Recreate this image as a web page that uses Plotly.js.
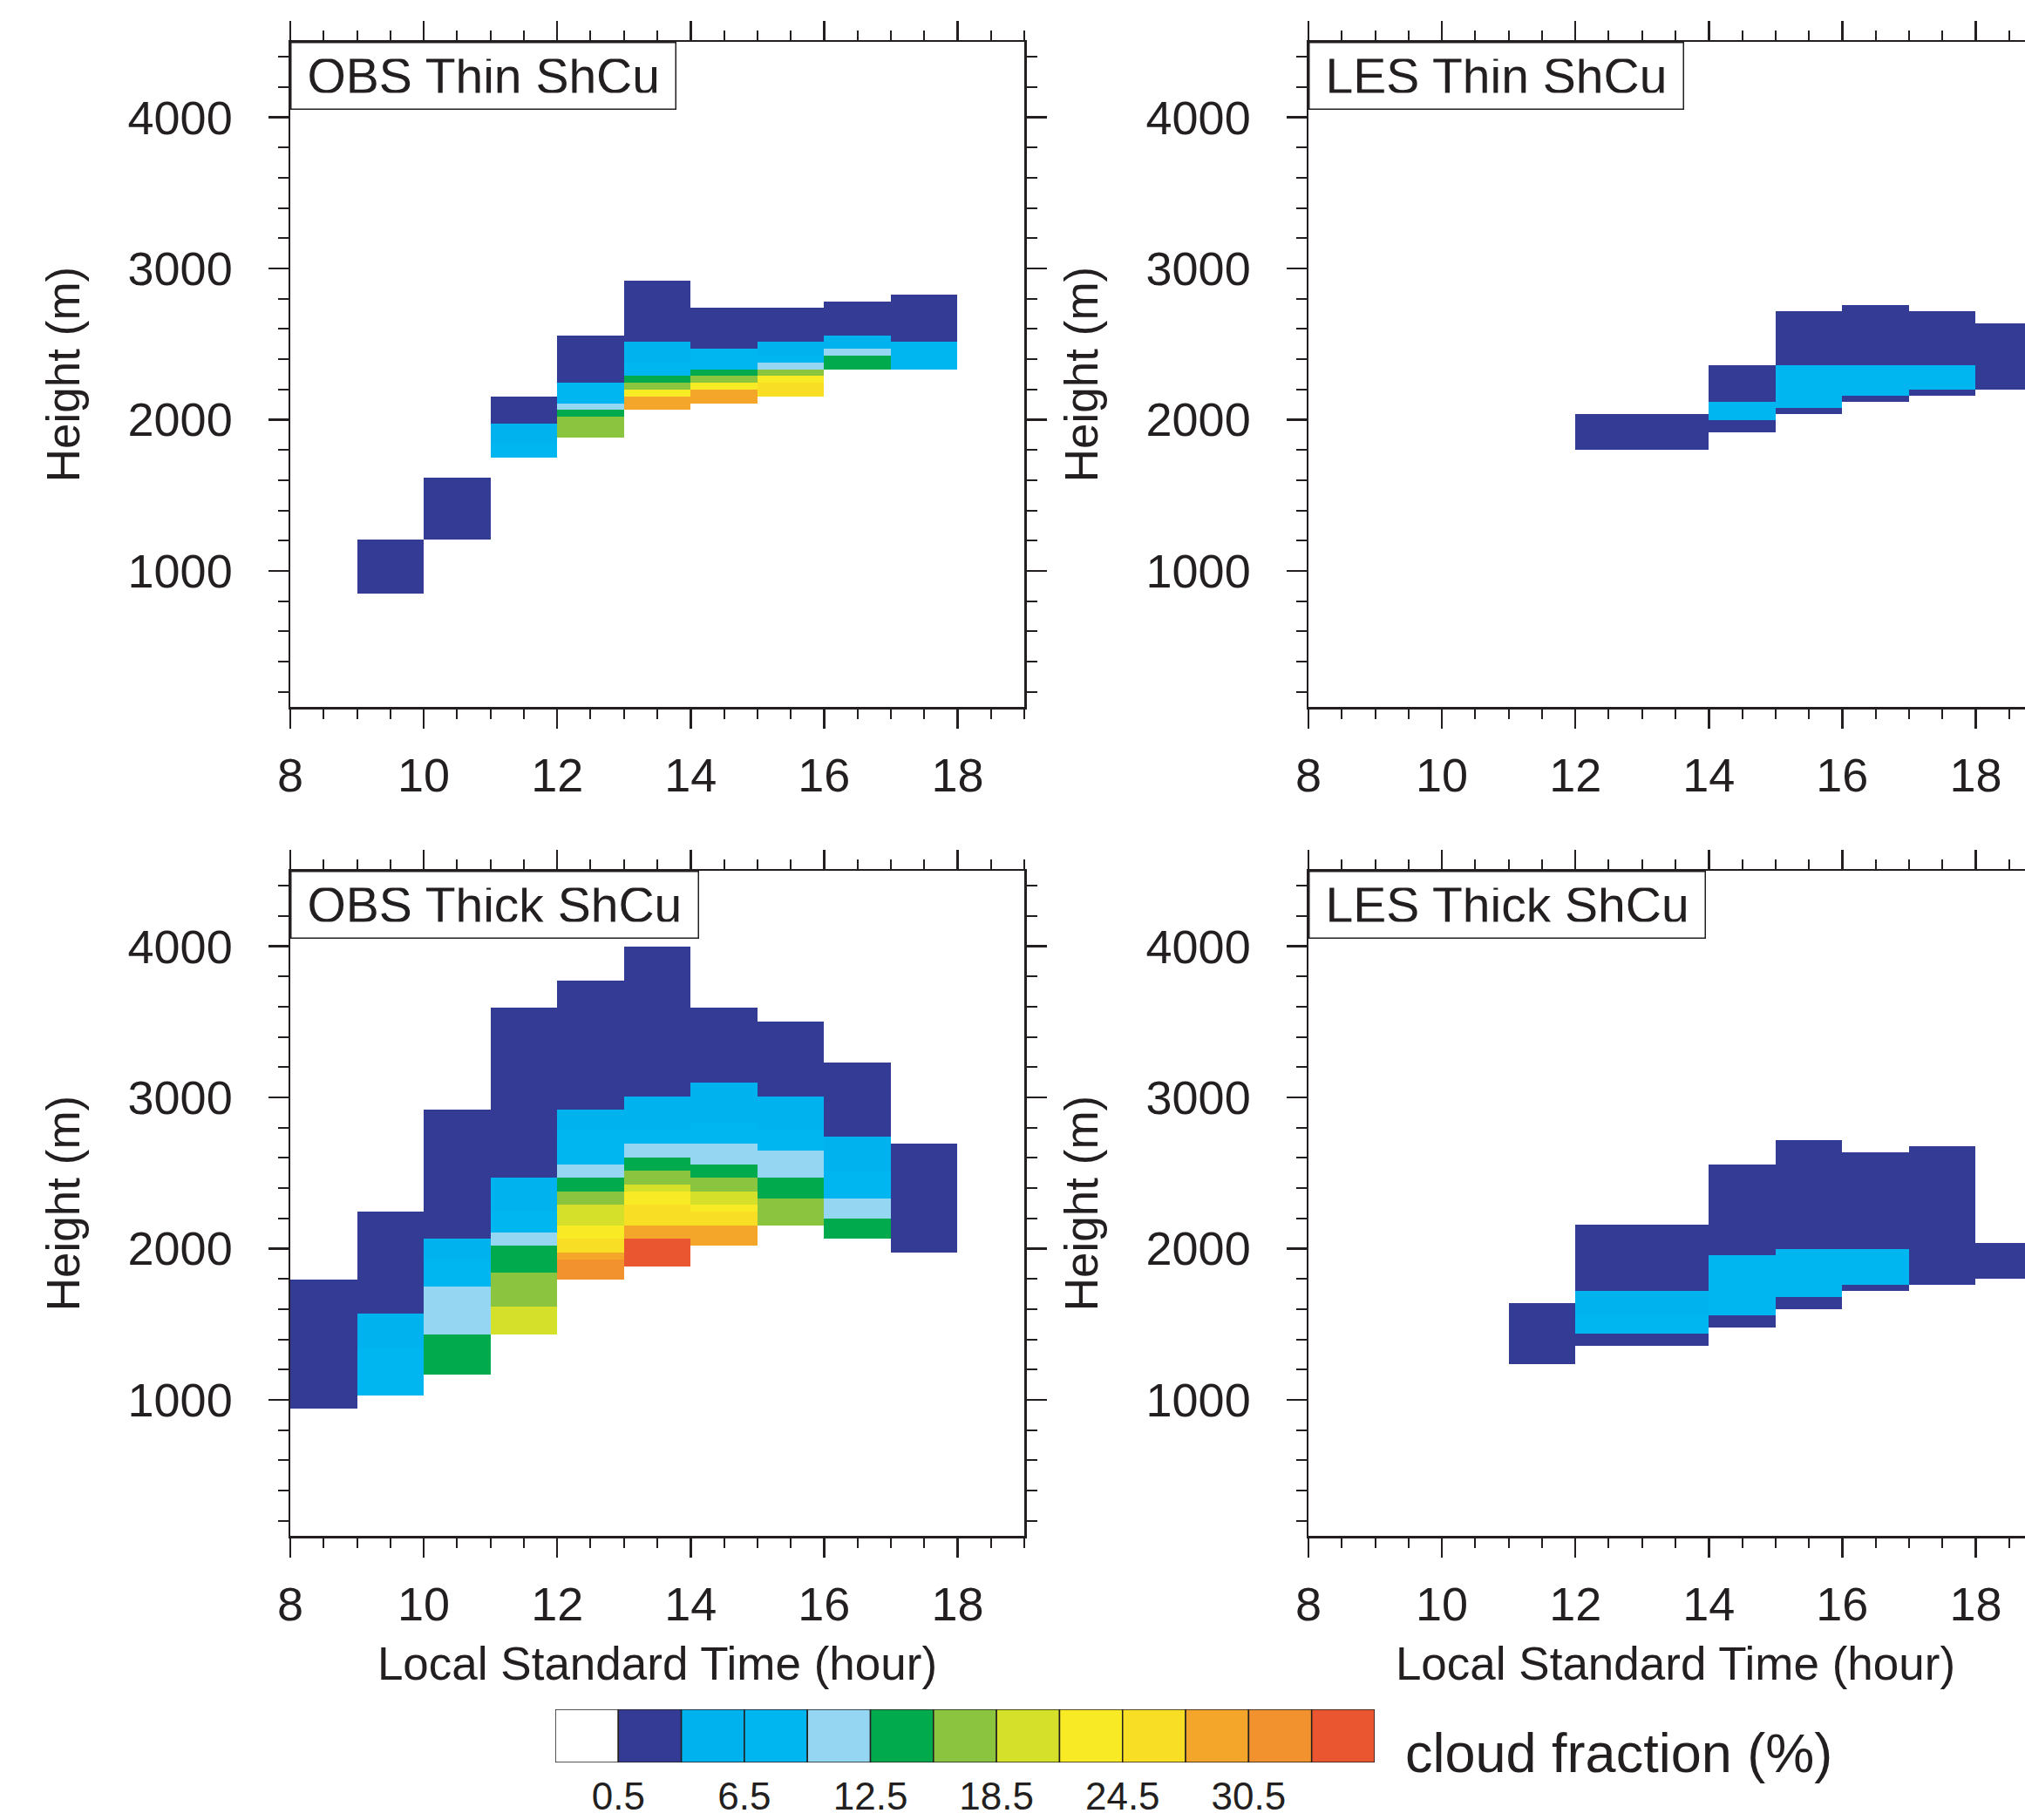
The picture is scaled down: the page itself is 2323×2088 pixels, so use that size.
<!DOCTYPE html>
<html><head><meta charset="utf-8">
<script src="https://cdn.plot.ly/plotly-3.0.1.min.js"></script>
<style>
html,body{margin:0;padding:0;background:#fff;overflow:hidden}
#wrap{width:2323px;height:2088px;overflow:hidden;position:relative}
#plot{width:2360px;height:2088px}
</style></head>
<body><div id="wrap"><div id="plot"></div></div>
<script>
// ---------------- data ----------------
// hour bins (left edges of the 1-hour columns) and their outer edge
const hourEdges = [8, 9, 10, 11, 12, 13, 14, 15, 16, 17, 18, 19];

// vertical grids (m): observations ~45 m, LES 40 m
const obsGridBase = 38, obsGridStep = 45;
const lesGridBase = 0,  lesGridStep = 40;

// cloud-fraction class boundaries (%) and colours
const cfLevels = [0.5, 3.5, 6.5, 9.5, 12.5, 15.5, 18.5, 21.5, 24.5, 27.5, 30.5, 33.5];
const cfColors = ['#ffffff', '#343b95', '#00b2ee', '#00b6f0', '#95d7f2', '#00aa4d',
                  '#8bc540', '#d5e02b', '#f8eb25', '#f8de24', '#f4a62a', '#f1922e', '#e9562f'];
const cfTickLabels = [0.5, 6.5, 12.5, 18.5, 24.5, 30.5];

// layers: [hour, bottom (m), top (m), cloud fraction (%)]
const obsThin = [
  [9, 848, 1208, 2],
  [10, 1208, 1613, 2],
  [11, 1748, 1838, 8], [11, 1838, 1973, 5], [11, 1973, 2153, 2],
  [12, 1883, 2018, 17], [12, 2018, 2063, 14], [12, 2063, 2108, 11], [12, 2108, 2243, 8], [12, 2243, 2558, 2],
  [13, 2063, 2153, 29], [13, 2153, 2198, 23], [13, 2198, 2243, 17], [13, 2243, 2288, 14], [13, 2288, 2378, 8], [13, 2378, 2513, 5], [13, 2513, 2918, 2],
  [14, 2108, 2198, 29], [14, 2198, 2243, 23], [14, 2243, 2288, 17], [14, 2288, 2333, 14], [14, 2333, 2468, 8], [14, 2468, 2738, 2],
  [15, 2153, 2243, 26], [15, 2243, 2288, 23], [15, 2288, 2333, 17], [15, 2333, 2378, 11], [15, 2378, 2423, 8], [15, 2423, 2513, 5], [15, 2513, 2738, 2],
  [16, 2333, 2423, 14], [16, 2423, 2468, 11], [16, 2468, 2558, 5], [16, 2558, 2783, 2],
  [17, 2333, 2513, 8], [17, 2513, 2828, 2]
];

const lesThin = [
  [12, 1800, 2040, 2], [13, 1800, 2040, 2],
  [14, 1920, 2000, 2], [14, 2000, 2120, 8], [14, 2120, 2360, 2],
  [15, 2040, 2080, 2], [15, 2080, 2360, 8], [15, 2360, 2720, 2],
  [16, 2120, 2160, 2], [16, 2160, 2360, 8], [16, 2360, 2760, 2],
  [17, 2160, 2200, 2], [17, 2200, 2360, 8], [17, 2360, 2720, 2],
  [18, 2200, 2640, 2]
];

const obsThick = [
  [8, 938, 1793, 2],
  [9, 1028, 1343, 8], [9, 1343, 1568, 5], [9, 1568, 2243, 2],
  [10, 1163, 1433, 14], [10, 1433, 1748, 11], [10, 1748, 1928, 8], [10, 1928, 2063, 5], [10, 2063, 2918, 2],
  [11, 1433, 1613, 20], [11, 1613, 1838, 17], [11, 1838, 2018, 14], [11, 2018, 2108, 11], [11, 2108, 2243, 8], [11, 2243, 2468, 5], [11, 2468, 3593, 2],
  [12, 1793, 1928, 32], [12, 1928, 1973, 29], [12, 1973, 2063, 26], [12, 2063, 2153, 23], [12, 2153, 2288, 20], [12, 2288, 2378, 17], [12, 2378, 2468, 14], [12, 2468, 2558, 11], [12, 2558, 2783, 8], [12, 2783, 2918, 5], [12, 2918, 3773, 2],
  [13, 1883, 2063, 35], [13, 2063, 2153, 29], [13, 2153, 2288, 26], [13, 2288, 2378, 23], [13, 2378, 2423, 20], [13, 2423, 2513, 17], [13, 2513, 2603, 14], [13, 2603, 2693, 11], [13, 2693, 2783, 8], [13, 2783, 3008, 5], [13, 3008, 3998, 2],
  [14, 2018, 2153, 29], [14, 2153, 2243, 26], [14, 2243, 2288, 23], [14, 2288, 2378, 20], [14, 2378, 2468, 17], [14, 2468, 2558, 14], [14, 2558, 2693, 11], [14, 2693, 2828, 8], [14, 2828, 3098, 5], [14, 3098, 3593, 2],
  [15, 2153, 2333, 17], [15, 2333, 2468, 14], [15, 2468, 2648, 11], [15, 2648, 2783, 8], [15, 2783, 3008, 5], [15, 3008, 3503, 2],
  [16, 2063, 2198, 14], [16, 2198, 2333, 11], [16, 2333, 2513, 8], [16, 2513, 2738, 5], [16, 2738, 3233, 2],
  [17, 1973, 2693, 2]
];

const lesThick = [
  [11, 1240, 1640, 2],
  [12, 1360, 1440, 2], [12, 1440, 1560, 8], [12, 1560, 1720, 5], [12, 1720, 2160, 2],
  [13, 1360, 1440, 2], [13, 1440, 1560, 8], [13, 1560, 1720, 5], [13, 1720, 2160, 2],
  [14, 1480, 1560, 2], [14, 1560, 1960, 8], [14, 1960, 2560, 2],
  [15, 1600, 1680, 2], [15, 1680, 2000, 8], [15, 2000, 2720, 2],
  [16, 1720, 1760, 2], [16, 1760, 2000, 8], [16, 2000, 2640, 2],
  [17, 1760, 2680, 2],
  [18, 1800, 2040, 2]
];

const panelLabels = ['OBS Thin ShCu', 'LES Thin ShCu', 'OBS Thick ShCu', 'LES Thick ShCu'];

// ---------------- build ----------------
const C = '#231f20';
const FONT = 'Liberation Sans, Arial, Helvetica, sans-serif';
const W = 2360, H = 2088;
const px = v => v / W, py = v => 1 - v / H;

const zMin = cfLevels[0] - 3, zMax = cfLevels[cfLevels.length - 1] + 3;
const nC = cfColors.length;
const colorscale = [];
cfColors.forEach((c, i) => { colorscale.push([i / nC, c]); colorscale.push([(i + 1) / nC, c]); });

function buildGrid(layers, base, step) {
  const edges = [];
  for (let h = base; h <= 4560; h += step) edges.push(h);
  const nCols = hourEdges.length - 1;
  const z = [];
  for (let r = 0; r < edges.length - 1; r++) z.push(new Array(nCols).fill(null));
  layers.forEach(([hr, bot, top, cf]) => {
    const col = hourEdges.indexOf(hr);
    for (let r = 0; r < edges.length - 1; r++) {
      const c = (edges[r] + edges[r + 1]) / 2;
      if (c > bot && c < top) z[r][col] = cf;
    }
  });
  return { edges, z };
}

const panels = [
  { layers: obsThin,  base: obsGridBase, step: obsGridStep, xd: [333, 1175], yd: [48, 811] },
  { layers: lesThin,  base: lesGridBase, step: lesGridStep, xd: [1501, 2343], yd: [48, 811] },
  { layers: obsThick, base: obsGridBase, step: obsGridStep, xd: [333, 1175], yd: [999, 1762] },
  { layers: lesThick, base: lesGridBase, step: lesGridStep, xd: [1501, 2343], yd: [999, 1762] }
];

const data = [];
const layout = {
  width: W, height: H,
  margin: { l: 0, r: 0, t: 0, b: 0 },
  paper_bgcolor: '#ffffff', plot_bgcolor: '#ffffff',
  font: { family: FONT, color: C },
  showlegend: false,
  bargap: 0,
  annotations: []
};

panels.forEach((p, i) => {
  const n = i + 1;
  const xa = n === 1 ? 'x' : 'x' + n, ya = n === 1 ? 'y' : 'y' + n;
  const g = buildGrid(p.layers, p.base, p.step);
  data.push({
    type: 'heatmap', x: hourEdges, y: g.edges, z: g.z,
    zmin: zMin, zmax: zMax, colorscale: colorscale, showscale: false,
    hoverinfo: 'skip', xaxis: xa, yaxis: ya
  });
  const xdom = [px(p.xd[0]), px(p.xd[1])];
  const ydom = [py(p.yd[1]), py(p.yd[0])];
  const bottomRow = i >= 2;
  layout['xaxis' + (n === 1 ? '' : n)] = {
    domain: xdom, anchor: ya, range: [8, 19], tick0: 8, dtick: 2,
    ticks: 'outside', ticklen: 22, tickwidth: 2.5, tickcolor: C,
    showline: true, linewidth: 2.5, linecolor: C, mirror: 'ticks',
    showgrid: false, zeroline: false,
    tickfont: { size: 54, color: C, family: FONT }, ticklabelstandoff: 8,
    minor: { dtick: 0.5, tick0: 8, ticks: 'outside', ticklen: 11, tickwidth: 2, tickcolor: C, showgrid: false },
    title: bottomRow ? { text: 'Local Standard Time (hour)', font: { size: 53, color: C, family: FONT }, standoff: 21 } : { text: '' },
    fixedrange: true
  };
  layout['yaxis' + (n === 1 ? '' : n)] = {
    domain: ydom, anchor: xa, range: [100, 4500], tick0: 0, dtick: 1000,
    ticks: 'outside', ticklen: 23, tickwidth: 2.5, tickcolor: C,
    showline: true, linewidth: 2.5, linecolor: C, mirror: 'ticks',
    showgrid: false, zeroline: false,
    tickfont: { size: 54, color: C, family: FONT }, ticklabelstandoff: 30,
    minor: { dtick: 200, tick0: 0, ticks: 'outside', ticklen: 12, tickwidth: 2, tickcolor: C, showgrid: false },
    title: { text: 'Height (m)', font: { size: 53, color: C, family: FONT }, standoff: 38 },
    fixedrange: true
  };
  layout.annotations.push({
    xref: 'paper', yref: 'paper', x: xdom[0], y: ydom[1], xanchor: 'left', yanchor: 'top',
    text: panelLabels[i], showarrow: false,
    font: { size: 57, color: C, family: FONT },
    bgcolor: '#ffffff', bordercolor: C, borderwidth: 1.5, borderpad: 18, height: 39
  });
});

// colour bar drawn as outlined boxes on its own axes
const cbCenters = [], cbWidths = [], cbOnes = [];
for (let i = 0; i < nC; i++) {
  const lo = i === 0 ? zMin : cfLevels[i - 1];
  const hi = i === nC - 1 ? zMax : cfLevels[i];
  cbCenters.push((lo + hi) / 2); cbWidths.push(hi - lo); cbOnes.push(1);
}
data.push({
  type: 'bar', x: cbCenters, y: cbOnes, width: cbWidths,
  marker: { color: cfColors, line: { color: C, width: 1.5 } },
  hoverinfo: 'skip', xaxis: 'x5', yaxis: 'y5'
});
layout.xaxis5 = {
  domain: [px(637), px(1577)], anchor: 'y5', range: [zMin, zMax],
  tickvals: cfTickLabels, ticktext: cfTickLabels.map(v => v.toFixed(1)),
  ticks: '', showline: false, showgrid: false, zeroline: false,
  tickfont: { size: 44, color: C, family: FONT }, ticklabelstandoff: 9, fixedrange: true
};
layout.yaxis5 = {
  domain: [py(2022), py(1961)], anchor: 'x5', range: [0, 1],
  visible: false, fixedrange: true
};
layout.annotations.push({
  xref: 'paper', yref: 'paper', x: px(1610), y: py(2011), xanchor: 'left', yanchor: 'middle',
  text: 'cloud fraction (%)', showarrow: false, font: { size: 63, color: C, family: FONT }
});

Plotly.newPlot('plot', data, layout, { displayModeBar: false, staticPlot: true });
</script>
</body></html>
